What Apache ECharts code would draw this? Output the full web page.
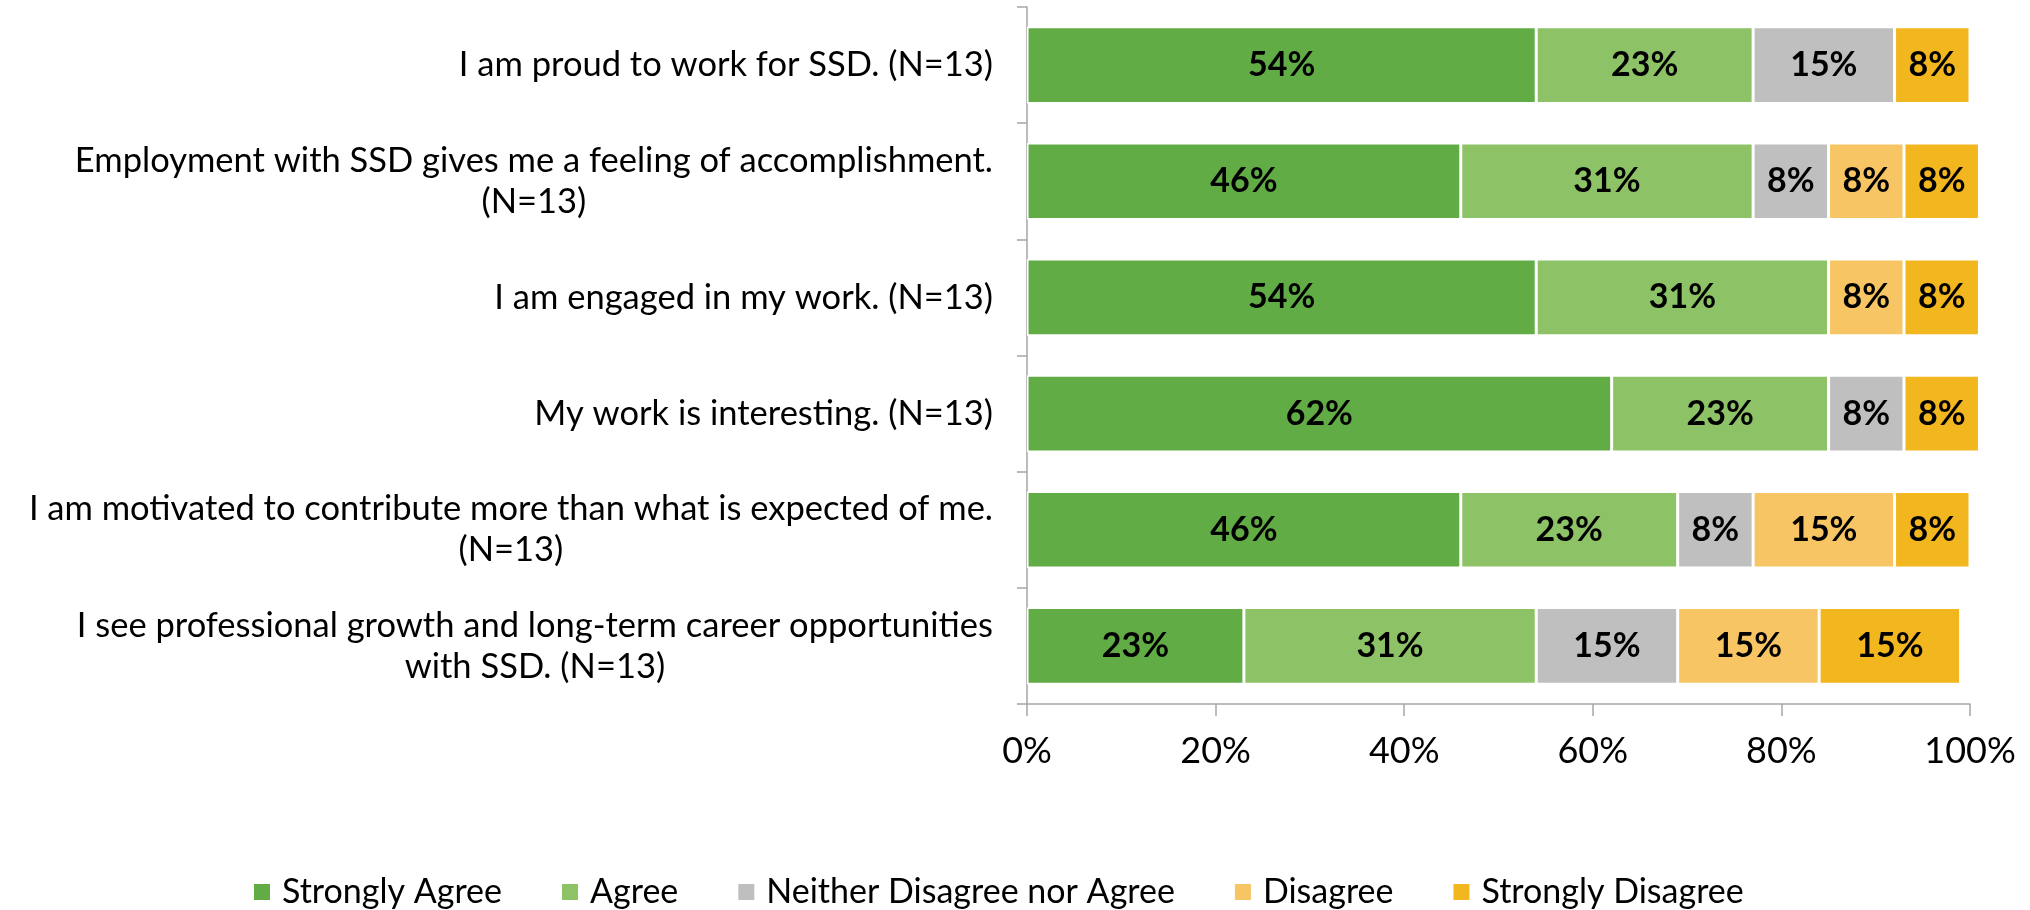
<!DOCTYPE html>
<html>
<head>
<meta charset="utf-8">
<script src="https://cdn.jsdelivr.net/npm/echarts@6/dist/echarts.min.js"></script>
<style>html,body{margin:0;padding:0;background:#fff;}#c{width:2030px;height:910px;}</style>
</head>
<body>
<div id="c"></div>
<script>
const categories = [
  "I am proud to work for SSD. (N=13)",
  "Employment with SSD gives me a feeling of accomplishment.\n(N=13)",
  "I am engaged in my work. (N=13)",
  "My work is interesting. (N=13)",
  "I am motivated to contribute more than what is expected of me.\n(N=13)",
  "I see professional growth and long-term career opportunities\nwith SSD. (N=13)"
];
const seriesNames = ["Strongly Agree", "Agree", "Neither Disagree nor Agree", "Disagree", "Strongly Disagree"];
const stronglyAgree = [54, 46, 54, 62, 46, 23];
const agree = [23, 31, 31, 23, 23, 31];
const neither = [15, 8, 0, 8, 8, 15];
const disagree = [0, 8, 8, 0, 15, 15];
const stronglyDisagree = [8, 8, 8, 8, 8, 15];
const xTicks = [0, 20, 40, 60, 80, 100];
const colors = ["#62AC46", "#8DC366", "#BFBFBF", "#F7C563", "#F2B61E"];

const FONT = "Lato";
const allValues = [stronglyAgree, agree, neither, disagree, stronglyDisagree];

const series = seriesNames.map((name, i) => ({
  name: name,
  type: 'bar',
  stack: 'total',
  barCategoryGap: '34%',
  clip: false,
  itemStyle: { color: colors[i], borderColor: '#ffffff', borderWidth: 1.5 },
  label: {
    show: true,
    position: 'inside',
    color: '#000',
    fontFamily: FONT,
    fontWeight: 'bold',
    fontSize: 34,
    formatter: p => (p.value ? p.value + '%' : '')
  },
  data: allValues[i].map(v => (v === 0 ? '-' : v))
}));

const chart = echarts.init(document.getElementById('c'));
chart.setOption({
  animation: false,
  color: colors,
  grid: { left: 1027, right: 60, top: 7, bottom: 206, containLabel: false },
  legend: {
    data: seriesNames,
    top: 870,
    left: 247,
    itemWidth: 18,
    itemHeight: 18,
    itemGap: 58,
    icon: 'rect',
    textStyle: { fontFamily: FONT, fontSize: 34, color: '#000', padding: [0, 0, 0, 6] }
  },
  xAxis: {
    type: 'value',
    min: 0,
    max: 100,
    interval: 20,
    axisLine: { show: true, lineStyle: { color: '#A6A6A6', width: 1.5 } },
    axisTick: { show: true, length: 12, lineStyle: { color: '#A6A6A6', width: 1.5 } },
    splitLine: { show: false },
    axisLabel: {
      margin: 29,
      fontFamily: FONT,
      fontSize: 36,
      color: '#000',
      formatter: v => (xTicks.indexOf(v) >= 0 ? v + '%' : '')
    }
  },
  yAxis: {
    type: 'category',
    inverse: true,
    data: categories,
    axisLine: { show: true, lineStyle: { color: '#A6A6A6', width: 1.5 } },
    axisTick: { show: true, length: 10, lineStyle: { color: '#A6A6A6', width: 1.5 } },
    axisLabel: {
      margin: 34,
      fontFamily: FONT,
      fontSize: 34.5,
      color: '#000',
      lineHeight: 41,
      formatter: v => v.split('\n').map(s => '{c|' + s + '}').join('\n'),
      rich: { c: { align: 'center', fontFamily: FONT, fontSize: 34.5, color: '#000', lineHeight: 41 } }
    }
  },
  series: series
});
</script>
</body>
</html>
